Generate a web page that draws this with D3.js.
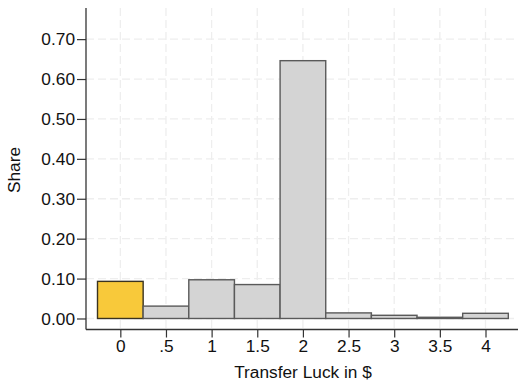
<!DOCTYPE html>
<html>
<head>
<meta charset="utf-8">
<script src="https://cdn.jsdelivr.net/npm/d3@7"></script>
<style>
	html, body { margin: 0; padding: 0; background: #fff; }
	svg { display: block; font-family: "Liberation Sans", Arial, sans-serif; }
</style>
</head>
<body>
<div id="chart"></div>
<script>
// transfer luck bins (in $) and share of observations
var bins = [0, 0.5, 1, 1.5, 2, 2.5, 3, 3.5, 4];
var shares = [0.093, 0.031, 0.097, 0.085, 0.646, 0.014, 0.008, 0.003, 0.013];
var xTickLabels = ["0", ".5", "1", "1.5", "2", "2.5", "3", "3.5", "4"];
var yTicks = [0, 0.1, 0.2, 0.3, 0.4, 0.5, 0.6, 0.7];
var highlightBin = 0;

(function() {
	'use strict';

	var W = 518,
		H = 385,
		left = 86,
		right = 518,
		top = 8,
		bottom = 329.5,
		binWidth = 0.5,
		fontSize = 17.3,
		gridColor = "#eeeeee",
		axisColor = "#333";

	var x = d3.scaleLinear().domain([-0.376, 4.356]).range([left, right]),
		y = d3.scaleLinear().domain([-0.0276, 0.778]).range([bottom, top]);

	var svg = d3.select("#chart").append("svg")
		.attr("width", W)
		.attr("height", H)
		.attr("viewBox", "0 0 " + W + " " + H);

	// dashed grid
	var grid = svg.append("g").attr("stroke", gridColor).attr("stroke-width", 1.3).attr("stroke-dasharray", "8,4");
	grid.selectAll("line.h")
		.data(yTicks)
		.join("line")
		.attr("class", "h")
		.attr("x1", left).attr("x2", right)
		.attr("y1", function(d) { return y(d); })
		.attr("y2", function(d) { return y(d); });
	grid.selectAll("line.v")
		.data(bins)
		.join("line")
		.attr("class", "v")
		.attr("y1", top).attr("y2", bottom)
		.attr("x1", function(d) { return x(d); })
		.attr("x2", function(d) { return x(d); });

	// bars
	svg.append("g")
		.selectAll("rect")
		.data(bins)
		.join("rect")
		.attr("x", function(d) { return x(d - binWidth / 2); })
		.attr("width", function() { return x(binWidth) - x(0); })
		.attr("y", function(d, i) { return y(shares[i]); })
		.attr("height", function(d, i) { return y(0) - y(shares[i]); })
		.attr("fill", function(d, i) { return i === highlightBin ? "#f8c93a" : "#d4d4d4"; })
		.attr("stroke", function(d, i) { return i === highlightBin ? "#3a3320" : "#5a5a5a"; })
		.attr("stroke-width", 1.4);

	// y axis
	var yAxis = svg.append("g")
		.attr("transform", "translate(" + left + ",0)")
		.call(d3.axisLeft(y)
			.tickValues(yTicks)
			.tickFormat(d3.format(".2f"))
			.tickSize(9)
			.tickPadding(2));
	yAxis.select(".domain").remove();
	yAxis.selectAll(".tick line").attr("stroke", axisColor).attr("stroke-width", 1.2);
	yAxis.selectAll(".tick text").attr("fill", "#111").style("font-size", fontSize + "px").style("font-family", "'Liberation Sans', Arial, sans-serif");

	// x axis
	var xAxis = svg.append("g")
		.attr("transform", "translate(0," + bottom + ")")
		.call(d3.axisBottom(x)
			.tickValues(bins)
			.tickFormat(function(d, i) { return xTickLabels[i]; })
			.tickSize(8)
			.tickPadding(2.5));
	xAxis.select(".domain").remove();
	xAxis.selectAll(".tick line").attr("stroke", axisColor).attr("stroke-width", 1.2);
	xAxis.selectAll(".tick text").attr("fill", "#111").style("font-size", fontSize + "px").style("font-family", "'Liberation Sans', Arial, sans-serif");

	// axis lines
	svg.append("line")
		.attr("x1", left).attr("x2", left)
		.attr("y1", top).attr("y2", bottom)
		.attr("stroke", axisColor).attr("stroke-width", 1.3);
	svg.append("line")
		.attr("x1", left).attr("x2", right)
		.attr("y1", bottom).attr("y2", bottom)
		.attr("stroke", axisColor).attr("stroke-width", 1.3);

	// titles
	svg.append("text")
		.attr("x", 303)
		.attr("y", 378)
		.attr("text-anchor", "middle")
		.attr("fill", "#111")
		.style("font-size", fontSize + "px")
		.text("Transfer Luck in $");

	svg.append("text")
		.attr("transform", "translate(20,170) rotate(-90)")
		.attr("text-anchor", "middle")
		.attr("fill", "#111")
		.style("font-size", fontSize + "px")
		.text("Share");
})();
</script>
</body>
</html>
